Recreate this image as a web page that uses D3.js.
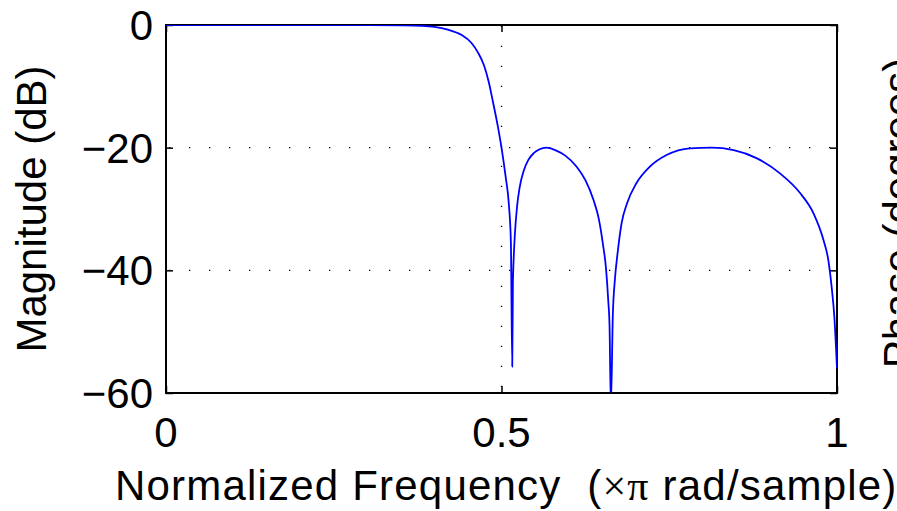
<!DOCTYPE html>
<html>
<head>
<meta charset="utf-8">
<script src="https://cdn.jsdelivr.net/npm/d3@7"></script>
<style>
  html, body { margin: 0; padding: 0; background: #fff; }
  svg { display: block; }
  text { font-family: "Liberation Sans", Arial, Helvetica, sans-serif; fill: #000; }
</style>
</head>
<body>
<svg id="chart" width="897" height="511"></svg>
<script>
// ---- data ----
const freq = [0, 0.1, 0.2, 0.3, 0.35, 0.38, 0.40, 0.42, 0.44, 0.455, 0.465, 0.474, 0.481, 0.487,
  0.494, 0.500, 0.506, 0.511, 0.514, 0.516, 0.517, 0.518, 0.520, 0.523, 0.527, 0.533, 0.540,
  0.548, 0.556, 0.567, 0.580, 0.595, 0.612, 0.625, 0.637, 0.645, 0.651, 0.656, 0.659, 0.661,
  0.663, 0.666, 0.669, 0.673, 0.679, 0.687, 0.701, 0.721, 0.746, 0.781, 0.813, 0.846, 0.880,
  0.915, 0.945, 0.965, 0.980, 0.987, 0.992, 0.996, 1.0];
const magnitudeDb = [0, 0, 0, -0.01, -0.05, -0.13, -0.3, -0.75, -1.6, -2.9, -4.5, -6.6, -9.3, -12.4,
  -16.2, -20, -24.6, -29.3, -35.5, -55.7, -42, -38.5, -34, -29.8, -26.5, -23.8, -22.0,
  -20.9, -20.3, -20, -20.4, -21.3, -23.1, -25.3, -28.5, -31.6, -35.6, -40, -44.8, -49,
  -62, -47, -41.5, -37.2, -32.3, -29.1, -25.8, -23.1, -21.2, -20.1, -20, -20.4, -21.7,
  -24.2, -27.4, -30.7, -35.1, -38.3, -42.7, -47.5, -56];
const xTicks = [0, 0.5, 1];
const xTickLabels = ["0", "0.5", "1"];
const yTicks = [0, -20, -40, -60];
const yTickLabels = ["0", "\u221220", "\u221240", "\u221260"];
const xGrid = [0.5];
const yGrid = [-20, -40];
const xLabelParts = ["Normalized Frequency  (", "\u00D7\u03C0", " rad/sample)"];
const yLabel = "Magnitude (dB)";
const rightLabel = "Phase (degrees)";

// ---- layout ----
const svg = d3.select("#chart");
const L = 166, R = 837, T = 25, B = 393;
const x = d3.scaleLinear().domain([0, 1]).range([L, R]);
const y = d3.scaleLinear().domain([-60, 0]).range([B, T]);
const fs = 42;

// grid
const grid = svg.append("g").attr("stroke", "#000").attr("stroke-width", 1.3)
  .attr("stroke-dasharray", "1.3,18.7");
grid.selectAll("line.vx").data(xGrid).join("line")
  .attr("stroke-dashoffset", -6)
  .attr("x1", d => x(d)).attr("x2", d => x(d)).attr("y1", B).attr("y2", T);
grid.selectAll("line.hy").data(yGrid).join("line")
  .attr("stroke-dashoffset", -3)
  .attr("x1", L).attr("x2", R).attr("y1", d => y(d)).attr("y2", d => y(d));

// axes (ticks inside, box)
const tl = 7;
const axL = svg.append("g").attr("transform", `translate(${L},0)`)
  .call(d3.axisRight(y).tickValues(yTicks).tickSize(tl).tickFormat(""));
const axR = svg.append("g").attr("transform", `translate(${R},0)`)
  .call(d3.axisLeft(y).tickValues(yTicks).tickSize(tl).tickFormat(""));
const axB = svg.append("g").attr("transform", `translate(0,${B})`)
  .call(d3.axisTop(x).tickValues(xTicks).tickSize(tl).tickFormat(""));
const axT = svg.append("g").attr("transform", `translate(0,${T})`)
  .call(d3.axisBottom(x).tickValues(xTicks).tickSize(tl).tickFormat(""));
[axL, axR, axB, axT].forEach(g => {
  g.select(".domain").remove();
  g.selectAll("line").attr("stroke", "#000").attr("stroke-width", 1.5);
});
svg.append("rect").attr("x", L).attr("y", T).attr("width", R - L).attr("height", B - T)
  .attr("fill", "none").attr("stroke", "#000").attr("stroke-width", 2);

// clip
svg.append("clipPath").attr("id", "clip").append("rect")
  .attr("x", L).attr("y", T).attr("width", R - L).attr("height", B - T - 0.5);

// line
const pts = freq.map((f, i) => [f, magnitudeDb[i]]);
const line = d3.line().x(d => x(d[0])).y(d => y(d[1])).curve(d3.curveMonotoneX);
svg.append("path").datum(pts).attr("clip-path", "url(#clip)")
  .attr("d", line).attr("fill", "none").attr("stroke", "#0000ff")
  .attr("stroke-width", 1.8).attr("stroke-linejoin", "round");

// tick labels
svg.selectAll("text.yt").data(yTicks).join("text").attr("class", "yt")
  .attr("x", L - 13).attr("y", d => y(d)).attr("dy", "0.36em")
  .attr("text-anchor", "end").attr("font-size", fs).text((d, i) => yTickLabels[i]);
svg.selectAll("text.xt").data(xTicks).join("text").attr("class", "xt")
  .attr("x", d => x(d)).attr("y", 447)
  .attr("text-anchor", "middle").attr("font-size", fs).text((d, i) => xTickLabels[i]);

// axis labels
const xl = svg.append("text").attr("x", 115).attr("y", 500)
  .attr("text-anchor", "start").attr("font-size", fs)
  .attr("letter-spacing", 1.2).style("white-space", "pre");
xl.append("tspan").text(xLabelParts[0]);
xl.append("tspan").attr("font-family", "'Liberation Serif', 'Times New Roman', serif")
  .attr("font-weight", 300).text(xLabelParts[1]);
xl.append("tspan").text(xLabelParts[2]);

svg.append("text").attr("transform", `translate(46,${(T + B) / 2}) rotate(-90)`)
  .attr("text-anchor", "middle").attr("font-size", fs).text(yLabel);
svg.append("text").attr("transform", `translate(913,213) rotate(-90)`)
  .attr("text-anchor", "middle").attr("font-size", fs).text(rightLabel);
</script>
</body>
</html>
